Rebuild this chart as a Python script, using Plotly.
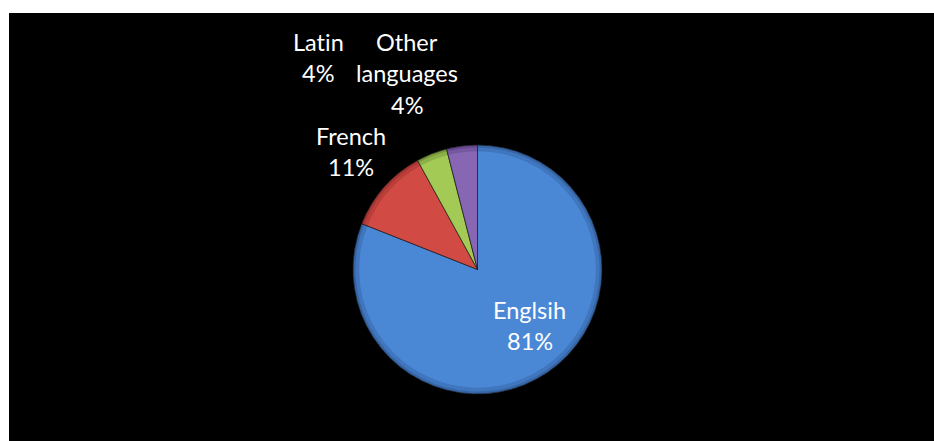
import plotly.graph_objects as go

# Share of words by language of origin
languages = ["Englsih", "French", "Latin", "Other<br>languages"]
label_lines = [["Englsih"], ["French"], ["Latin"], ["Other", "languages"]]
shares = [81, 11, 4, 4]
colors = ["#4A88D6", "#D24A44", "#A3CA55", "#8766B4"]
shade_rgb = ["20,40,80", "80,15,15", "40,60,10", "40,20,70"]

W, H = 934, 441

# pie placement in pixels (centre and radius)
cx, cy, r = 477.5, 269.5, 124.5
dom_x = [(cx - r) / W, (cx + r) / W]
dom_y = [1 - (cy + r) / H, 1 - (cy - r) / H]

fig = go.Figure()
fig.add_trace(go.Pie(
    labels=languages, values=shares, sort=False, direction="clockwise",
    marker=dict(colors=colors, line=dict(color="rgba(30,30,30,0.7)", width=1)),
    textinfo="none", hoverinfo="label+percent", showlegend=False,
    domain=dict(x=dom_x, y=dom_y),
))
# soft darker rim for a bevelled edge (two stacked translucent rings)
for hole, alpha in [(0.95, 0.18), (0.98, 0.22)]:
    fig.add_trace(go.Pie(
        labels=languages, values=shares, sort=False, direction="clockwise",
        hole=hole,
        marker=dict(colors=[f"rgba({c},{alpha})" for c in shade_rgb],
                    line=dict(width=0)),
        textinfo="none", hoverinfo="skip", showlegend=False,
        domain=dict(x=dom_x, y=dom_y),
    ))


def no_ligature(s):
    # keep "ti" / "fi" glyphs separate
    return s.replace("ti", "t\u200ci").replace("fi", "f\u200ci")


# label blocks: (x centre px, first line centre px) per slice
label_pos = [(529.5, 309.5), (351.0, 135.5), (318.0, 42.0), (407.0, 42.0)]
line_gap = 31.3
font = dict(family="Lato, Calibri, sans-serif", size=23.5, color="white")

annotations = []
for lines, share, (lx, ly) in zip(label_lines, shares, label_pos):
    for i, txt in enumerate(lines + [f"{share}%"]):
        annotations.append(dict(
            x=lx / W, y=1 - (ly + i * line_gap) / H, xref="paper", yref="paper",
            text=no_ligature(txt), showarrow=False, xanchor="center",
            yanchor="middle", font=font,
        ))

fig.update_layout(
    width=W, height=H,
    margin=dict(l=0, r=0, t=0, b=0),
    paper_bgcolor="white",
    shapes=[dict(type="rect", xref="paper", yref="paper",
                 x0=9 / W, x1=1, y0=0, y1=1 - 13 / H,
                 fillcolor="black", line=dict(width=0), layer="below")],
    annotations=annotations,
)

fig.write_html("out.html")
